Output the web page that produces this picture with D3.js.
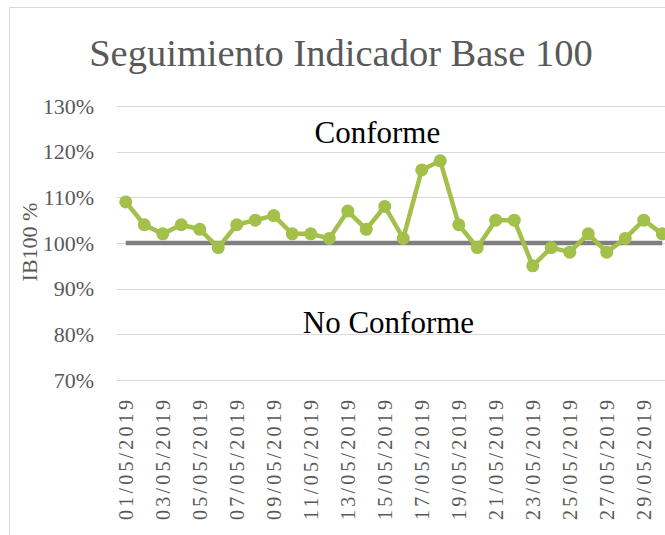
<!DOCTYPE html>
<html>
<head>
<meta charset="utf-8">
<script src="https://cdn.jsdelivr.net/npm/d3@7"></script>
<style>
  body { margin: 0; background: #fff; }
  text { font-family: "Liberation Serif", "DejaVu Serif", serif; font-variant-numeric: oldstyle-nums; }
</style>
</head>
<body>
<div id="chart"></div>
<script>
(function(){
  var width = 665,
    height = 535;

  // data
  var days = ["01/05/2019","02/05/2019","03/05/2019","04/05/2019","05/05/2019","06/05/2019",
    "07/05/2019","08/05/2019","09/05/2019","10/05/2019","11/05/2019","12/05/2019",
    "13/05/2019","14/05/2019","15/05/2019","16/05/2019","17/05/2019","18/05/2019",
    "19/05/2019","20/05/2019","21/05/2019","22/05/2019","23/05/2019","24/05/2019",
    "25/05/2019","26/05/2019","27/05/2019","28/05/2019","29/05/2019","30/05/2019"];
  var ib100 = [1.09,1.04,1.02,1.04,1.03,0.99,1.04,1.05,1.06,1.02,1.02,1.01,
    1.07,1.03,1.08,1.01,1.16,1.18,1.04,0.99,1.05,1.05,0.95,0.99,0.98,1.02,
    0.98,1.01,1.05,1.02];
  var base = days.map(function(){ return 1.00; });
  var yTicks = [0.7,0.8,0.9,1.0,1.1,1.2,1.3];
  // annotation texts: [label, value, day index where centered]
  var notes = [["Conforme", 1.22, 13.6], ["No Conforme", 0.803, 14.2]];

  var svg = d3.select("#chart")
    .append("svg")
    .attr("width", width)
    .attr("height", height);

  // chart frame
  svg.append("rect")
    .attr("x", 9.5).attr("y", 7.5)
    .attr("width", 700).attr("height", 560)
    .attr("fill", "#fff")
    .attr("stroke", "#d9d9d9");

  var x = d3.scaleBand().domain(days).range([116.5, 671.5]);
  var y = d3.scaleLinear().domain([0.7, 1.3]).range([380, 106]);
  var xi = d3.scaleLinear().domain([0, days.length - 1])
    .range([x(days[0]) + x.bandwidth()/2, x(days[days.length-1]) + x.bandwidth()/2]);

  // title
  svg.append("text")
    .attr("x", 341).attr("y", 66)
    .attr("text-anchor", "middle")
    .attr("fill", "#595959")
    .style("font-size", "38.5px")
    .text("Seguimiento Indicador Base 100");

  // gridlines
  svg.selectAll(".grid")
    .data(yTicks)
    .enter().append("line")
    .attr("class", "grid")
    .attr("x1", 116.5).attr("x2", 671.5)
    .attr("y1", function(d){ return Math.round(y(d)) + 0.5; })
    .attr("y2", function(d){ return Math.round(y(d)) + 0.5; })
    .attr("stroke", "#d9d9d9")
    .attr("stroke-width", 1);

  // y axis labels
  var yAxis = d3.axisLeft(y).tickValues(yTicks).tickSize(0).tickPadding(0)
    .tickFormat(d3.format(".0%"));
  var gy = svg.append("g")
    .attr("transform", "translate(94,0)")
    .call(yAxis);
  gy.select(".domain").remove();
  gy.selectAll("text")
    .attr("fill", "#595959")
    .style("font-size", "22px")
    .style("font-family", null);

  // y axis title
  svg.append("text")
    .attr("transform", "translate(37,242) rotate(-90)")
    .attr("text-anchor", "middle")
    .attr("fill", "#595959")
    .style("font-size", "22px")
    .text("IB100 %");

  // x axis labels (every other day)
  var xAxis = d3.axisBottom(x)
    .tickValues(days.filter(function(d, i){ return i % 2 === 0; }))
    .tickSize(0).tickPadding(0);
  var gx = svg.append("g")
    .attr("transform", "translate(0,400)")
    .call(xAxis);
  gx.select(".domain").remove();
  gx.selectAll("text")
    .attr("fill", "#595959")
    .style("font-size", "20px")
    .style("font-family", null)
    .attr("text-anchor", "end")
    .attr("transform", "rotate(-90)")
    .attr("textLength", 120)
    .attr("lengthAdjust", "spacing")
    .attr("x", 0)
    .attr("y", 0)
    .attr("dy", "0.35em");

  var line = d3.line()
    .x(function(d, i){ return x(days[i]) + x.bandwidth()/2; })
    .y(function(d){ return y(d); });

  // base 100 line
  svg.append("path")
    .datum(base)
    .attr("d", line)
    .attr("fill", "none")
    .attr("stroke", "#7f7f7f")
    .attr("stroke-width", 4.5);

  // indicator line
  svg.append("path")
    .datum(ib100)
    .attr("d", line)
    .attr("fill", "none")
    .attr("stroke", "#a2c04a")
    .attr("stroke-width", 4.5)
    .attr("stroke-linejoin", "round");

  svg.selectAll(".pt")
    .data(ib100)
    .enter().append("circle")
    .attr("class", "pt")
    .attr("cx", function(d, i){ return x(days[i]) + x.bandwidth()/2; })
    .attr("cy", function(d){ return y(d); })
    .attr("r", 6.5)
    .attr("fill", "#a2c04a");

  // Conforme / No Conforme
  svg.selectAll(".note")
    .data(notes)
    .enter().append("text")
    .attr("class", "note")
    .attr("x", function(d){ return xi(d[2]); })
    .attr("y", function(d){ return y(d[1]); })
    .attr("text-anchor", "middle")
    .attr("fill", "#000")
    .style("font-size", "31px")
    .text(function(d){ return d[0]; });

})();
</script>
</body>
</html>
